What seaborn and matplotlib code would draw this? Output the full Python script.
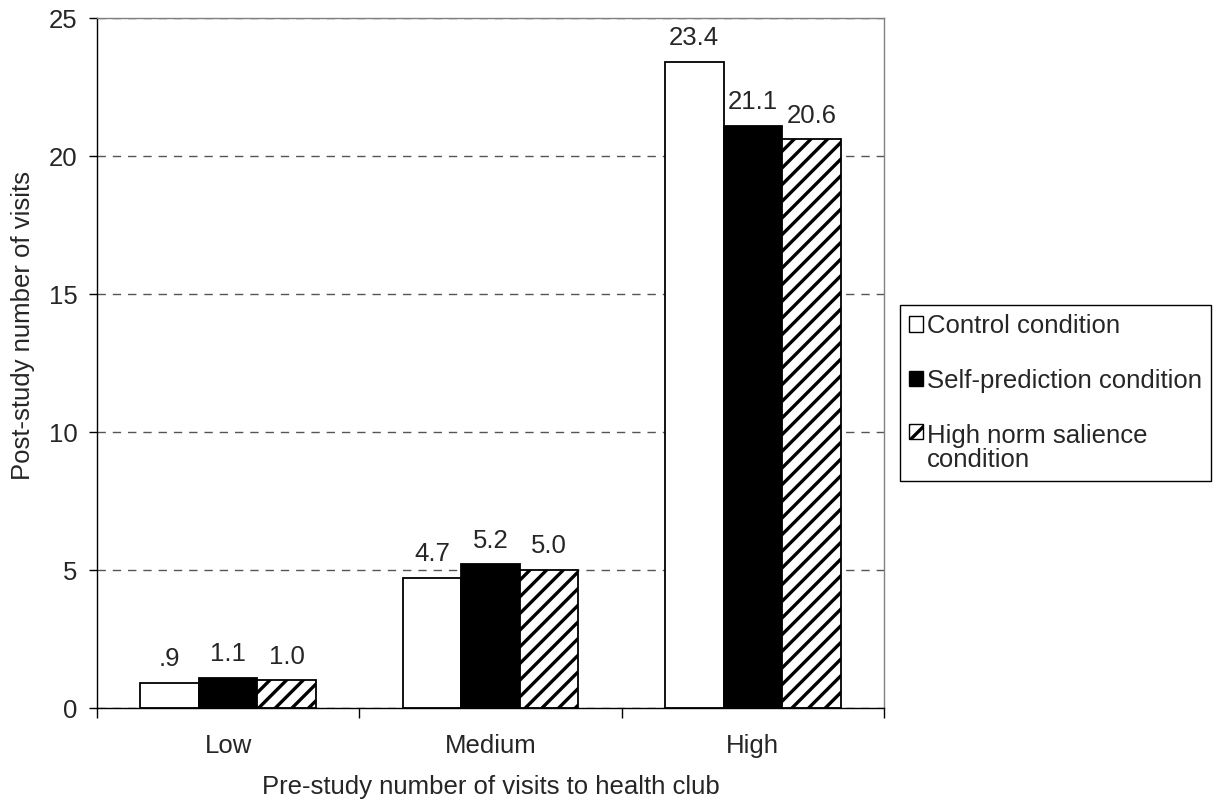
import matplotlib
matplotlib.use("Agg")
import matplotlib.pyplot as plt
from matplotlib.patches import Patch
from matplotlib.ticker import FixedLocator
import pandas as pd
import seaborn as sns

# Chart data
levels = ["Low", "Medium", "High"]
conditions = ["Control condition", "Self-prediction condition",
              "High norm salience condition"]
legend_labels = ["Control condition", "Self-prediction condition",
                 "High norm salience\ncondition"]
control = [0.9, 4.7, 23.4]
self_prediction = [1.1, 5.2, 21.1]
high_norm = [1.0, 5.0, 20.6]
y_ticks = [0, 5, 10, 15, 20, 25]

series = [control, self_prediction, high_norm]
df = pd.DataFrame({
    "level": [lv for _ in conditions for lv in levels],
    "condition": [c for c in conditions for _ in levels],
    "visits": [v for s in series for v in s],
})

sns.set_style("white")
plt.rcParams["font.family"] = ["Liberation Sans", "DejaVu Sans"]
plt.rcParams["hatch.linewidth"] = 2.4

FS = 18.5

fig = plt.figure(figsize=(12.23, 8.05), dpi=100)
ax = fig.add_axes([97 / 1223, 1 - 708 / 805, (884 - 97) / 1223, 690 / 805])

sns.barplot(data=df, x="level", y="visits", hue="condition",
            order=levels, hue_order=conditions,
            palette=["white", "black", "white"], saturation=1,
            edgecolor="black", linewidth=1.3, width=0.67, gap=0,
            errorbar=None, legend=False, ax=ax)

for bar in ax.containers[2]:
    bar.set_hatch("//")


def fmt(v):
    s = f"{v:.1f}"
    return s[1:] if s.startswith("0") else s


for cont in ax.containers:
    ax.bar_label(cont, labels=[fmt(v) for v in cont.datavalues],
                 padding=8.5, fontsize=FS)

# Axes styling
ax.set_xlim(-0.5, 2.5)
ax.set_ylim(0, 25)
ax.set_yticks(y_ticks)
ax.yaxis.grid(True, color="#555555", linestyle=(0, (6, 5)), linewidth=1)
ax.xaxis.grid(False)
ax.set_axisbelow(True)

for side in ["left", "bottom"]:
    ax.spines[side].set_color("black")
    ax.spines[side].set_linewidth(1)
for side in ["top", "right"]:
    ax.spines[side].set_color("#808080")
    ax.spines[side].set_linewidth(1)

ax.tick_params(axis="y", which="major", length=6, width=1, pad=8,
               labelsize=FS, direction="out", color="black", left=True)
ax.tick_params(axis="x", which="major", length=0, pad=19, labelsize=FS)
ax.xaxis.set_minor_locator(FixedLocator([-0.5, 0.5, 1.5, 2.5]))
ax.tick_params(axis="x", which="minor", length=7, width=1,
               direction="out", color="black", bottom=True)

ax.set_xlabel("Pre-study number of visits to health club", fontsize=FS,
              labelpad=12)
ax.set_ylabel("Post-study number of visits", fontsize=FS, labelpad=10)
ax.yaxis.label.set_y(0.555)

# Legend
handles = [
    Patch(facecolor="white", edgecolor="black", linewidth=1),
    Patch(facecolor="black", edgecolor="black", linewidth=1),
    Patch(facecolor="white", edgecolor="black", linewidth=1, hatch="//"),
]
leg = fig.legend(handles, legend_labels, loc="upper left",
                 bbox_to_anchor=(900 / 1223, 1 - 305 / 805),
                 fontsize=FS, frameon=True, fancybox=False,
                 edgecolor="black", framealpha=1, borderpad=0.35,
                 labelspacing=1.2, handlelength=0.55, handleheight=0.55,
                 handletextpad=0.15, borderaxespad=0)
leg.get_frame().set_linewidth(1)
for t in leg.get_texts():
    t.set_linespacing(1.0)
# keep the multi-line entry's swatch next to its first line
leg._legend_handle_box.get_children()[0].get_children()[2].align = "top"

fig.savefig("out.png", dpi=100)
